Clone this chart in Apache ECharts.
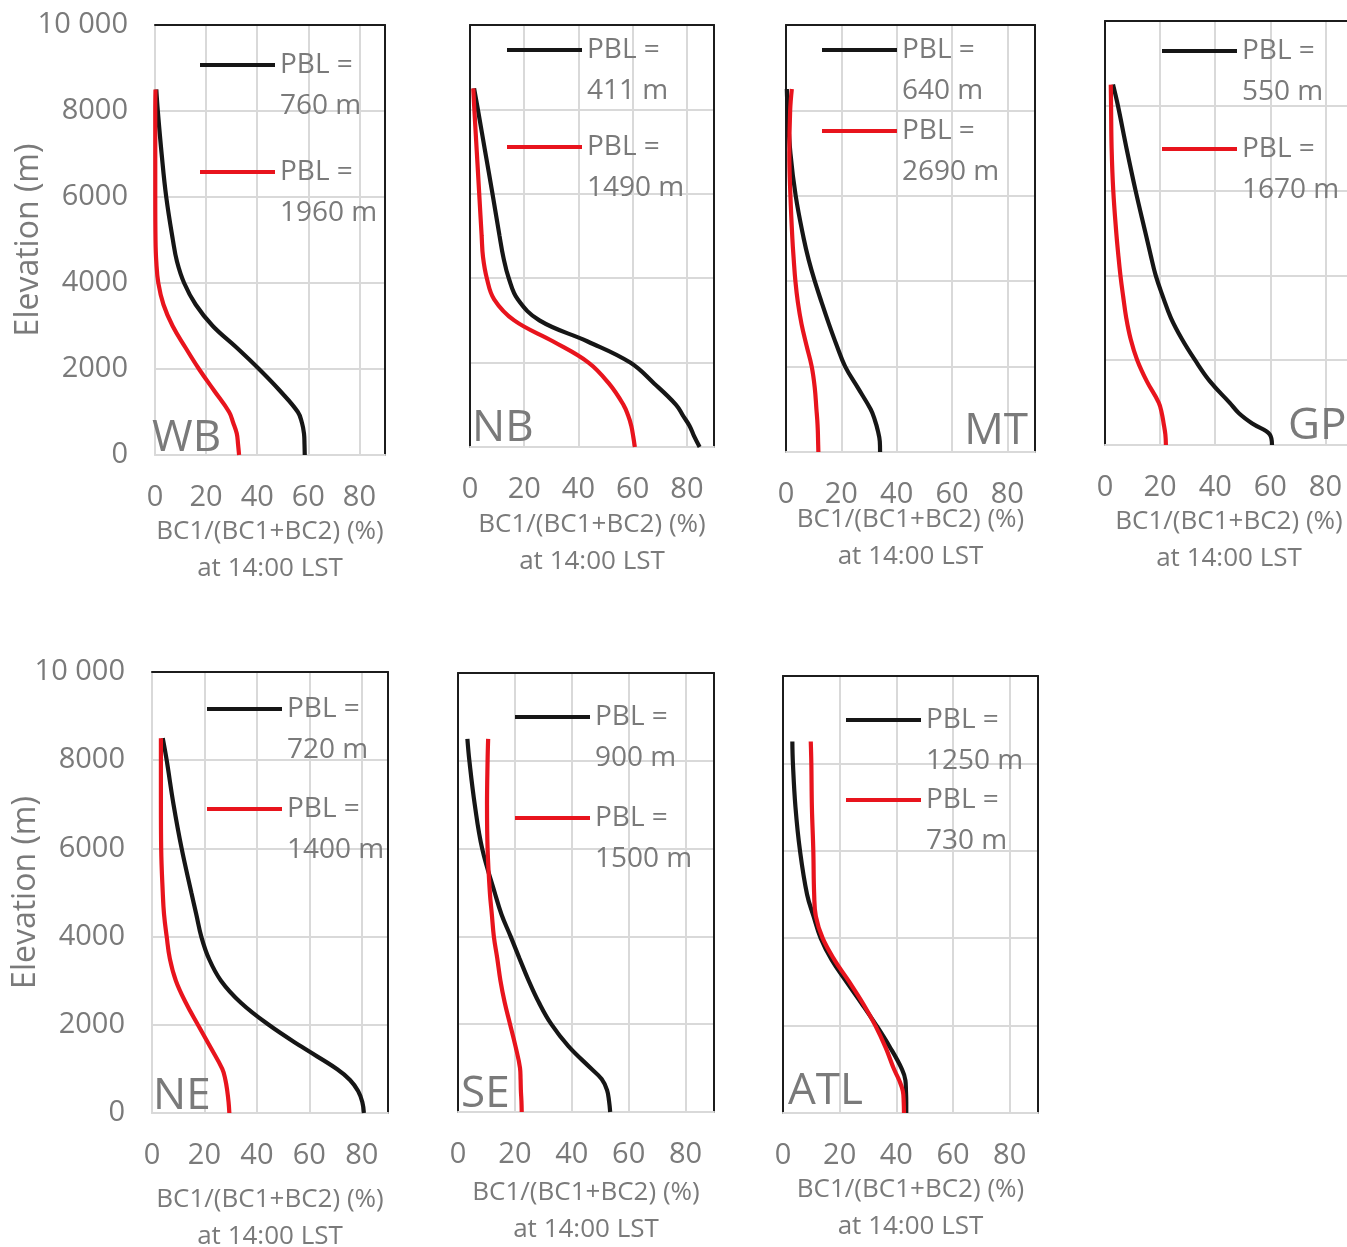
<!DOCTYPE html>
<html>
<head>
<meta charset="utf-8">
<script src="https://cdn.jsdelivr.net/npm/echarts@6/dist/echarts.min.js"></script>
<style>
  html, body { margin: 0; padding: 0; background: #ffffff; }
  #chart { width: 1347px; height: 1247px; }
</style>
</head>
<body>
<div id="chart"></div>
<script>
// Model levels (m) at which every profile is given
const elevation = [0, 250, 500, 750, 1000, 1500, 2000, 2500, 3000, 3500, 4000, 4500, 5000, 6000, 7000, 8000, 8500];

// BC1/(BC1+BC2) (%) at 14:00 LST, one array per region and PBL case
const wb760   = [58.6, 58.5, 58.3, 57.5, 55.9, 48.8, 40.7, 31.9, 22.6, 15.9, 11.4, 8.6, 7.0, 4.4, 2.6, 1.1, 0.5];
const wb1960  = [32.9, 32.5, 32.0, 30.6, 29.0, 23.1, 17.2, 11.9, 6.9, 3.3, 1.3, 0.5, 0.2, 0.1, 0.1, 0.1, 0.2];
const nb411   = [84.7, 82.7, 81.0, 78.5, 76.0, 68.0, 59.1, 43.4, 25.6, 17.6, 14.3, 12.3, 10.9, 8.3, 5.6, 2.9, 1.5];
const nb1490  = [60.8, 60.2, 59.5, 58.3, 56.6, 51.3, 43.7, 30.7, 16.3, 8.9, 6.2, 4.8, 4.3, 3.4, 2.5, 1.6, 1.2];
const mt640   = [34.0, 33.9, 33.2, 32.1, 30.6, 26.0, 21.4, 18.3, 15.5, 12.9, 10.4, 8.2, 6.4, 3.5, 1.6, 0.6, 0.3];
const mt2690  = [11.7, 11.6, 11.5, 11.3, 11.0, 10.4, 9.3, 7.4, 5.6, 4.3, 3.4, 2.8, 2.3, 1.6, 1.2, 1.5, 2.1];
const gp550   = [60.6, 59.8, 53.6, 48.6, 45.2, 38.1, 32.7, 27.9, 23.9, 21.0, 18.4, 16.5, 14.7, 11.1, 7.8, 4.7, 2.9];
const gp1670  = [22.1, 21.9, 21.3, 20.6, 19.5, 15.2, 11.7, 9.3, 7.7, 6.6, 5.6, 4.8, 4.1, 3.0, 2.4, 2.2, 2.1];
const ne720   = [80.8, 80.2, 78.6, 75.5, 70.5, 57.1, 44.5, 33.9, 26.3, 21.7, 18.8, 16.9, 15.0, 11.3, 8.2, 5.6, 4.1];
const ne1400  = [29.5, 29.2, 28.7, 28.0, 26.8, 22.2, 17.5, 12.9, 9.1, 6.8, 5.6, 4.6, 4.1, 3.5, 3.4, 3.4, 3.4];
const se900   = [53.5, 53.1, 52.4, 50.5, 46.6, 38.8, 32.8, 28.4, 24.8, 21.6, 18.5, 15.3, 12.9, 8.5, 5.9, 4.0, 3.3];
const se1500  = [22.4, 22.3, 22.1, 22.0, 21.8, 20.2, 18.3, 16.4, 14.9, 13.8, 12.6, 11.9, 11.2, 10.4, 10.2, 10.4, 10.6];
const atl1250 = [43.5, 43.5, 43.4, 43.2, 42.0, 37.8, 33.0, 27.8, 22.4, 17.2, 13.3, 10.8, 8.5, 6.0, 4.4, 3.5, 3.3];
const atl730  = [42.7, 42.6, 42.3, 41.0, 39.2, 36.2, 32.6, 28.3, 23.4, 18.2, 14.0, 11.6, 11.0, 10.7, 10.2, 10.0, 9.8];

// Axis tick labels
const xTickLabels = ['0', '20', '40', '60', '80'];
const yTickLabels = ['0', '2000', '4000', '6000', '8000', '10 000'];

// Panel layout: plot rectangle [left, top, width, height], legend anchor, region label
const panels = [
  { region: 'WB',  dark: wb760,   light: wb1960, pblDark: '760 m',  pblLight: '1960 m', rect: [155, 25, 230, 430],  firstCol: true,  nameGap: 58, legend: [200, 65, 172],  tag: { left: 152, cy: 438 } },
  { region: 'NB',  dark: nb411,   light: nb1490, pblDark: '411 m',  pblLight: '1490 m', rect: [470, 25, 244, 422],  firstCol: false, nameGap: 59, legend: [507, 50, 147],  tag: { left: 472, cy: 428 } },
  { region: 'MT',  dark: mt640,   light: mt2690, pblDark: '640 m',  pblLight: '2690 m', rect: [786, 25, 249, 427],  firstCol: false, nameGap: 49, legend: [822, 50, 131],  tag: { right: 319, cy: 431 } },
  { region: 'GP',  dark: gp550,   light: gp1670, pblDark: '550 m',  pblLight: '1670 m', rect: [1105, 21, 248, 424], firstCol: false, nameGap: 58, legend: [1162, 51, 149], tag: { left: 1288, cy: 426 } },
  { region: 'NE',  dark: ne720,   light: ne1400, pblDark: '720 m',  pblLight: '1400 m', rect: [152, 672, 236, 441], firstCol: true,  nameGap: 68, legend: [207, 709, 809], tag: { left: 153, cy: 1096 } },
  { region: 'SE',  dark: se900,   light: se1500, pblDark: '900 m',  pblLight: '1500 m', rect: [458, 673, 256, 439], firstCol: false, nameGap: 62, legend: [515, 717, 818], tag: { left: 461, cy: 1094 } },
  { region: 'ATL', dark: atl1250, light: atl730, pblDark: '1250 m', pblLight: '730 m',  rect: [783, 676, 255, 437], firstCol: false, nameGap: 58, legend: [846, 720, 800], tag: { left: 788, cy: 1091 } }
];

const FONT = "'Open Sans', 'DejaVu Sans', sans-serif";
const TEXT = '#7a7a7a';
const GRID_LINE = '#d9d9d9';
const FRAME = '#1c1c1c';
const DARK = '#161616';
const LIGHT = '#e8141d';
const LEGEND_LH = 41;
const LEGEND_BAR = 4;

const grid = [], xAxis = [], yAxis = [], series = [], legend = [], title = [];

panels.forEach((p, i) => {
  const [left, top, width, height] = p.rect;
  grid.push({ left, top, width, height, show: false, outerBoundsMode: 'none', containLabel: false });

  // bottom axis: ticks, vertical grid lines and the axis title
  xAxis.push({
    gridIndex: i, type: 'value', min: 0, max: 90, interval: 20, position: 'bottom',
    axisLine: { show: true, onZero: false, lineStyle: { color: GRID_LINE, width: 2 } },
    axisTick: { show: false },
    axisLabel: {
      show: true, margin: 28, fontSize: 29, color: TEXT, fontFamily: FONT,
      formatter: v => (v % 20 === 0 && xTickLabels[v / 20] !== undefined) ? xTickLabels[v / 20] : ''
    },
    splitLine: { show: true, lineStyle: { color: GRID_LINE, width: 2 } },
    name: 'BC1/(BC1+BC2) (%)\nat 14:00 LST', nameLocation: 'middle', nameGap: p.nameGap,
    nameMoveOverlap: false,
    nameTextStyle: { fontSize: 26, lineHeight: 37, color: TEXT, fontFamily: FONT }
  });
  // top frame edge
  xAxis.push({
    gridIndex: i, type: 'value', min: 0, max: 90, position: 'top',
    axisLine: { show: true, onZero: false, lineStyle: { color: FRAME, width: 2 } },
    axisTick: { show: false }, axisLabel: { show: false }, splitLine: { show: false }
  });

  // left axis: elevation ticks and horizontal grid lines
  yAxis.push({
    gridIndex: i, type: 'value', min: 0, max: 10000, interval: 2000, position: 'left',
    axisLine: { show: true, onZero: false, lineStyle: { color: p.firstCol ? GRID_LINE : FRAME, width: 2 } },
    axisTick: { show: false },
    axisLabel: {
      show: p.firstCol, margin: 27, fontSize: 29, color: TEXT, fontFamily: FONT,
      formatter: v => yTickLabels[v / 2000]
    },
    splitLine: { show: true, lineStyle: { color: GRID_LINE, width: 2 } },
    name: p.firstCol ? 'Elevation (m)' : '', nameLocation: 'middle', nameGap: 110,
    nameMoveOverlap: false,
    nameTextStyle: { fontSize: 32, color: TEXT, fontFamily: FONT }
  });
  // right frame edge
  yAxis.push({
    gridIndex: i, type: 'value', min: 0, max: 10000, position: 'right',
    axisLine: { show: true, onZero: false, lineStyle: { color: FRAME, width: 2 } },
    axisTick: { show: false }, axisLabel: { show: false }, splitLine: { show: false }
  });

  const cases = [
    { values: p.dark, pbl: p.pblDark, color: DARK, y: p.legend[1] },
    { values: p.light, pbl: p.pblLight, color: LIGHT, y: p.legend[2] }
  ];
  cases.forEach(c => {
    const name = 'PBL =\n' + c.pbl;
    series.push({
      type: 'line', name,
      xAxisIndex: 2 * i, yAxisIndex: 2 * i,
      data: elevation.map((e, k) => [c.values[k], e]),
      symbol: 'none', showSymbol: false, smooth: 0.4,
      lineStyle: { color: c.color, width: 4.2 },
      itemStyle: { color: c.color },
      z: 3
    });
    // the leading blank line puts "PBL =" level with the key bar
    legend.push({
      data: [name], orient: 'vertical', selectedMode: false,
      left: p.legend[0], top: c.y - 1.5 * LEGEND_LH, padding: 0,
      icon: 'rect', itemWidth: 75, itemHeight: LEGEND_BAR, itemGap: 0,
      formatter: n => '\n' + n,
      textStyle: { fontSize: 28, color: TEXT, fontFamily: FONT, lineHeight: LEGEND_LH }
    });
  });

  const tag = { text: p.region, top: p.tag.cy - 22, padding: 0,
    textStyle: { fontSize: 44, fontWeight: 'normal', color: TEXT, fontFamily: FONT } };
  if (p.tag.left !== undefined) tag.left = p.tag.left; else tag.right = p.tag.right;
  title.push(tag);
});

const chart = echarts.init(document.getElementById('chart'), null, { renderer: 'canvas' });
chart.setOption({
  backgroundColor: '#ffffff',
  animation: false,
  title, grid, xAxis, yAxis, legend, series
});
</script>
</body>
</html>
